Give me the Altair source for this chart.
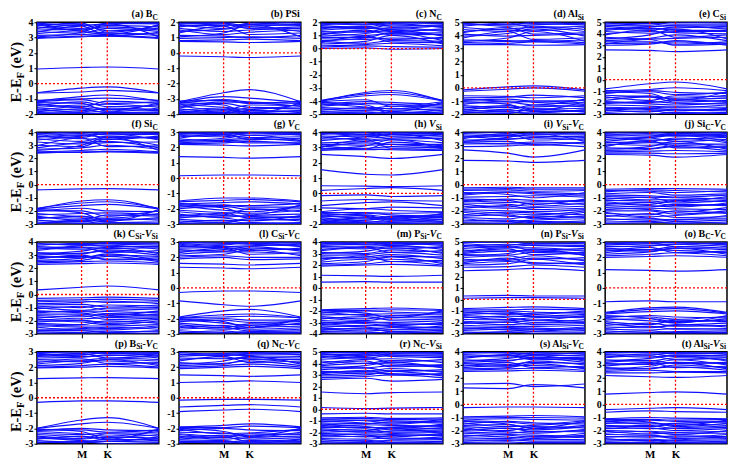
import altair as alt
import pandas as pd

SERIF = "Liberation Serif"
BLUE = "#1010ff"
RED = "#ff0000"

# k-path: Gamma - M - K - Gamma
K_POS = [0.0, 1.0, 1.577, 2.732]

# y ranges of every panel
ranges = {
    "a": (-2, 4), "b": (-4, 2), "c": (-5, 2), "d": (-2, 5), "e": (-3, 5),
    "f": (-3, 4), "g": (-3, 3), "h": (-2, 4), "i": (-3, 4), "j": (-3, 4),
    "k": (-3, 4), "l": (-3, 3), "m": (-4, 4), "n": (-3, 5), "o": (-3, 3),
    "p": (-3, 3), "q": (-3, 3), "r": (-3, 5), "s": (-3, 4), "t": (-3, 4),
}

# bands: energy (eV) at (Gamma, M, K)
bands_a = [(2.95, 3.05, 3.1), (3.0, 3.1, 3.15), (3.05, 3.35, 3.9), (3.35, 3.75, 3.1), (3.4, 3.3, 3.6),
           (3.8, 3.95, 3.35), (3.9, 3.6, 3.95), (4.0, 4.1, 4.05), (3.85, 3.4, 3.2),
           (3.15, 3.2, 3.25), (3.5, 3.55, 3.7), (3.6, 3.85, 3.45), (3.7, 3.5, 3.8), (3.95, 3.8, 3.9),
           (3.25, 3.45, 3.3),
           (0.95, 1.05, 1.08),
           (-0.6, -0.3, -0.22), (-0.62, -0.55, -0.45), (-1.15, -0.85, -0.75), (-1.2, -1.05, -1.3),
           (-1.25, -1.3, -1.8), (-1.3, -1.55, -1.15), (-1.45, -1.2, -1.5), (-1.6, -1.75, -1.85),
           (-1.75, -1.5, -1.65), (-1.9, -1.95, -1.95), (-1.1, -1.0, -0.95), (-1.35, -1.6, -1.7),
           (-1.55, -1.4, -1.35), (-1.7, -1.85, -1.6), (-1.85, -1.65, -1.9), (-1.98, -1.9, -2.0)]
bands_b = [(0.75, 0.72, 0.68), (0.95, 1.0, 1.05), (1.05, 1.3, 1.85), (1.3, 1.75, 1.2), (1.5, 1.2, 1.35),
           (1.7, 1.9, 1.6), (1.85, 1.6, 1.95), (1.95, 2.0, 2.05), (0.8, 0.85, 0.9), (1.15, 1.1, 1.0),
           (1.4, 1.55, 1.7), (1.6, 1.4, 1.5), (1.8, 1.8, 1.85), (1.9, 1.95, 1.75),
           (-0.2, -0.25, -0.3),
           (-3.2, -2.6, -2.4), (-3.25, -2.85, -2.95), (-3.3, -3.05, -3.2), (-3.25, -3.4, -3.95),
           (-3.45, -3.75, -3.4), (-3.6, -3.3, -3.55), (-3.8, -3.9, -3.8), (-3.95, -3.7, -4.0),
           (-3.15, -3.1, -3.3), (-3.35, -3.55, -3.7), (-3.5, -3.2, -3.25), (-3.65, -3.85, -3.6),
           (-3.75, -3.6, -3.9), (-3.9, -3.95, -3.75), (-3.98, -4.0, -3.95)]
bands_c = [(0.0, 0.05, -0.05), (0.1, 0.2, 0.15), (0.35, 0.55, 1.0), (0.45, 0.95, 0.5), (0.75, 0.7, 0.8),
           (0.95, 1.15, 1.4), (1.1, 1.4, 1.05), (1.3, 1.25, 1.6), (1.5, 1.7, 1.3), (1.65, 1.5, 1.8),
           (1.8, 1.95, 1.7), (1.95, 1.8, 2.0), (1.2, 1.0, 1.15), (0.2, 0.3, 0.4), (0.55, 0.4, 0.6),
           (0.85, 0.85, 0.7), (1.05, 1.3, 1.25), (1.4, 1.55, 1.45), (1.6, 1.65, 1.9),
           (1.75, 1.6, 1.55), (1.9, 1.85, 1.95), (0.6, 0.8, 1.2),
           (-4.0, -3.35, -3.2), (-4.0, -3.6, -3.5), (-4.05, -3.9, -4.4), (-4.1, -4.3, -4.8),
           (-4.3, -4.05, -4.1), (-4.5, -4.6, -4.4), (-4.7, -4.5, -4.9), (-4.9, -4.95, -4.85),
           (-3.95, -3.45, -3.35), (-4.2, -4.45, -4.6), (-4.4, -4.2, -4.25), (-4.6, -4.75, -4.7),
           (-4.8, -4.7, -4.55), (-4.95, -4.85, -4.98)]
bands_d = [(3.3, 3.3, 3.25), (3.45, 3.55, 3.6), (3.55, 3.8, 4.3), (3.8, 4.3, 3.7), (4.1, 3.95, 4.0),
           (4.3, 4.5, 4.6), (4.6, 4.4, 4.35), (4.8, 4.85, 4.9), (4.95, 4.7, 4.8), (3.35, 3.4, 3.5),
           (3.65, 3.6, 3.55), (3.95, 4.15, 4.5), (4.2, 4.6, 4.1), (4.45, 4.3, 4.7), (4.7, 4.95, 4.6),
           (4.9, 4.8, 5.0),
           (-0.15, 0.08, 0.15), (-0.25, -0.1, 0.0), (-0.75, -0.7, -0.55), (-0.95, -0.85, -1.0),
           (-1.05, -1.25, -1.7), (-1.25, -1.0, -1.1), (-1.45, -1.65, -1.3), (-1.7, -1.45, -1.8),
           (-1.85, -1.95, -1.6), (-1.95, -1.8, -2.0), (-0.6, -0.65, -0.75), (-0.85, -1.05, -1.3),
           (-1.15, -1.15, -1.0), (-1.35, -1.5, -1.45), (-1.55, -1.35, -1.6), (-1.65, -1.85, -1.9),
           (-1.8, -1.7, -1.75)]
bands_e = [(2.6, 2.55, 2.45), (3.0, 3.1, 3.4), (3.1, 3.5, 3.0), (3.3, 3.3, 3.1), (3.55, 3.9, 4.4),
           (3.9, 4.35, 3.7), (4.2, 4.05, 4.2), (4.4, 4.6, 4.7), (4.65, 4.45, 4.5), (4.85, 4.9, 4.85),
           (4.95, 4.75, 5.0), (3.15, 3.2, 3.3), (3.4, 3.6, 3.9), (3.7, 3.55, 3.6), (4.0, 4.2, 4.1),
           (4.3, 4.5, 4.3), (4.5, 4.3, 4.6), (4.75, 4.65, 4.75),
           (-0.8, -0.35, -0.2), (-0.95, -0.85, -0.7), (-1.05, -1.2, -1.8), (-1.2, -0.95, -1.1),
           (-1.5, -1.8, -1.4), (-1.8, -1.5, -1.95), (-2.0, -2.1, -2.2), (-2.4, -2.45, -2.35),
           (-2.6, -2.8, -2.55), (-2.85, -2.7, -2.95), (-2.95, -3.0, -2.85), (-1.1, -1.05, -1.3),
           (-1.35, -1.5, -1.6), (-1.6, -1.4, -1.7), (-1.9, -2.0, -1.75), (-2.1, -1.9, -2.05),
           (-2.2, -2.3, -2.4), (-2.5, -2.6, -2.7), (-2.7, -2.5, -2.6)]
bands_f = [(2.4, 2.5, 2.5), (2.5, 2.6, 2.7), (2.6, 3.0, 3.6), (2.95, 3.55, 2.9), (3.25, 3.1, 3.2),
           (3.4, 3.7, 3.9), (3.7, 3.5, 3.45), (3.85, 3.9, 3.8), (3.95, 3.75, 4.0), (2.45, 2.45, 2.55),
           (2.7, 2.8, 3.0), (2.8, 3.2, 3.3), (3.0, 2.9, 3.5), (3.5, 3.3, 3.7), (3.6, 3.8, 3.6),
           (3.8, 3.6, 3.9), (3.9, 4.0, 3.95),
           (-0.4, -0.32, -0.3),
           (-1.85, -1.25, -1.15), (-1.85, -1.6, -1.5), (-1.9, -2.15, -2.8), (-2.05, -1.8, -2.0),
           (-2.4, -2.7, -2.3), (-2.6, -2.4, -2.65), (-2.85, -2.95, -2.9), (-3.0, -2.8, -3.0),
           (-1.8, -1.4, -1.3), (-2.0, -2.0, -2.4), (-2.2, -2.45, -2.55), (-2.3, -2.2, -2.15),
           (-2.5, -2.55, -2.75), (-2.7, -2.85, -2.6), (-2.95, -2.7, -2.85)]
bands_g = [(2.2, 2.15, 2.1), (2.3, 2.4, 2.3), (2.45, 2.6, 2.8), (2.6, 2.9, 2.5), (2.8, 2.7, 2.95),
           (2.95, 3.0, 3.0), (2.25, 2.3, 2.4), (2.4, 2.5, 2.6), (2.55, 2.45, 2.5), (2.7, 2.8, 2.65),
           (2.85, 2.95, 2.8), (2.9, 2.85, 2.95),
           (1.4, 1.35, 1.3), (0.15, 0.2, 0.2),
           (-1.5, -1.3, -1.3), (-1.7, -1.6, -1.55), (-1.75, -1.95, -2.4), (-1.9, -1.75, -1.9),
           (-2.2, -2.4, -2.0), (-2.5, -2.3, -2.6), (-2.7, -2.8, -2.75), (-2.9, -2.75, -2.95),
           (-3.0, -3.0, -2.9), (-1.55, -1.45, -1.4), (-1.65, -1.8, -1.8), (-1.8, -2.1, -2.2),
           (-2.0, -1.85, -2.05), (-2.1, -2.25, -2.3), (-2.35, -2.55, -2.45), (-2.45, -2.6, -2.8),
           (-2.6, -2.45, -2.5), (-2.8, -2.9, -2.65), (-2.95, -2.9, -3.0)]
bands_h = [(2.55, 2.4, 2.28), (2.8, 2.9, 2.85), (2.9, 3.1, 3.5), (3.0, 3.5, 2.95), (3.2, 3.15, 3.2),
           (3.45, 3.7, 3.9), (3.7, 3.5, 3.6), (3.85, 3.95, 3.75), (3.95, 3.8, 4.0), (2.95, 2.95, 3.05),
           (2.85, 2.85, 2.9), (3.05, 3.3, 3.2), (3.1, 2.9, 3.35), (3.3, 3.4, 3.5), (3.55, 3.6, 3.7),
           (3.6, 3.85, 3.55), (3.75, 3.7, 3.85), (3.9, 4.0, 3.95),
           (1.55, 1.25, 1.2), (0.5, 0.47, 0.45), (0.2, 0.32, 0.38),
           (-0.15, -0.1, -0.2), (-0.5, -0.4, -0.45), (-0.8, -0.6, -0.55), (-0.95, -1.0, -0.9),
           (-1.2, -1.0, -1.1), (-1.3, -1.5, -1.7), (-1.5, -1.3, -1.4), (-1.6, -1.75, -1.5),
           (-1.8, -1.6, -1.85), (-1.95, -1.95, -1.9), (-1.25, -1.25, -1.3), (-1.35, -1.4, -1.55),
           (-1.45, -1.6, -1.6), (-1.55, -1.45, -1.75), (-1.7, -1.85, -1.8), (-1.85, -1.75, -1.65),
           (-1.9, -1.9, -1.98)]
bands_i = [(1.85, 1.8, 1.7), (2.65, 2.4, 2.1), (3.1, 3.15, 3.25), (3.3, 3.6, 3.9), (3.5, 3.9, 3.4),
           (3.7, 3.5, 3.6), (3.9, 3.8, 3.95), (3.25, 3.3, 3.0), (3.2, 3.1, 3.15), (3.4, 3.45, 3.55),
           (3.6, 3.75, 3.7), (3.8, 3.65, 3.8), (3.95, 3.95, 3.85), (2.9, 2.95, 3.05),
           (-0.25, -0.2, -0.25), (-0.45, -0.4, -0.5), (-0.6, -0.75, -1.0), (-0.8, -0.6, -0.7),
           (-1.1, -1.2, -1.5), (-1.3, -1.1, -1.2), (-1.5, -1.7, -1.4), (-1.8, -1.6, -1.9),
           (-2.0, -2.2, -2.3), (-2.3, -2.1, -2.15), (-2.5, -2.6, -2.4), (-2.75, -2.7, -2.9),
           (-2.9, -2.95, -2.8), (-0.35, -0.3, -0.35), (-0.7, -0.55, -0.6), (-0.95, -0.9, -0.85),
           (-1.2, -1.35, -1.3), (-1.4, -1.5, -1.65), (-1.65, -1.8, -1.75), (-1.9, -2.0, -2.05),
           (-2.1, -2.4, -2.5), (-2.4, -2.3, -2.6), (-2.6, -2.8, -2.7), (-2.85, -2.85, -2.95)]
bands_j = [(2.3, 2.25, 2.1), (2.5, 2.55, 2.6), (2.7, 2.9, 3.3), (2.9, 3.35, 2.8), (3.1, 3.0, 3.1),
           (3.3, 3.6, 3.8), (3.6, 3.4, 3.45), (3.75, 3.8, 3.7), (3.9, 3.7, 3.95), (4.0, 4.0, 3.9),
           (2.4, 2.4, 2.35), (2.6, 2.7, 2.9), (2.8, 2.75, 3.0), (3.0, 3.2, 3.15), (3.2, 3.3, 3.55),
           (3.45, 3.55, 3.3), (3.65, 3.6, 3.75), (3.85, 3.9, 3.8),
           (-0.35, -0.3, -0.3), (-0.45, -0.5, -0.6), (-0.7, -0.6, -0.8), (-0.9, -1.0, -1.3),
           (-1.1, -0.95, -1.0), (-1.3, -1.5, -1.2), (-1.5, -1.35, -1.6), (-1.75, -1.9, -2.1),
           (-1.9, -1.8, -1.85), (-2.2, -2.3, -2.0), (-2.45, -2.2, -2.5), (-2.6, -2.7, -2.65),
           (-2.85, -2.8, -2.95), (-0.55, -0.4, -0.45), (-0.8, -0.85, -0.95), (-1.0, -1.15, -1.15),
           (-1.2, -1.25, -1.4), (-1.4, -1.6, -1.7), (-1.6, -1.7, -1.5), (-2.0, -2.0, -2.25),
           (-2.1, -2.45, -2.35), (-2.35, -2.55, -2.7), (-2.7, -2.6, -2.8), (-2.95, -2.9, -2.85)]
bands_k = [(2.3, 2.35, 2.4), (2.5, 2.6, 2.9), (2.7, 3.0, 2.65), (2.9, 2.8, 3.0), (3.1, 3.3, 3.6),
           (3.35, 3.6, 3.2), (3.55, 3.45, 3.5), (3.75, 3.9, 3.85), (3.9, 3.75, 3.95),
           (2.4, 2.5, 2.55), (2.6, 2.75, 3.1), (2.8, 2.9, 2.7), (3.0, 3.15, 3.3), (3.2, 3.1, 3.4),
           (3.45, 3.7, 3.75), (3.65, 3.55, 3.65), (3.85, 3.8, 3.9),
           (0.35, 0.55, 0.65),
           (-0.3, -0.25, -0.2), (-0.45, -0.4, -0.35), (-0.7, -0.6, -0.5), (-0.9, -1.0, -0.8),
           (-1.1, -0.9, -1.2), (-1.25, -1.4, -1.6), (-1.4, -1.25, -1.3), (-1.6, -1.7, -1.5),
           (-1.8, -1.6, -1.9), (-2.0, -2.1, -2.3), (-2.2, -2.3, -2.0), (-2.4, -2.5, -2.6),
           (-2.65, -2.6, -2.5), (-2.85, -2.9, -2.8), (-0.55, -0.5, -0.6), (-0.8, -0.75, -0.95),
           (-1.0, -1.2, -1.05), (-1.3, -1.3, -1.45), (-1.5, -1.5, -1.7), (-1.7, -1.85, -1.75),
           (-1.9, -2.0, -2.1), (-2.1, -1.95, -2.2), (-2.3, -2.4, -2.4), (-2.5, -2.7, -2.7),
           (-2.75, -2.75, -2.9), (-2.95, -2.95, -2.95)]
bands_l = [(1.35, 1.3, 1.25), (1.6, 1.55, 1.5), (1.9, 2.0, 1.85), (2.1, 2.2, 2.5), (2.3, 2.6, 2.2),
           (2.5, 2.4, 2.6), (2.7, 2.8, 2.95), (2.85, 2.7, 2.75), (2.95, 3.0, 2.9), (2.0, 2.1, 2.0),
           (2.2, 2.35, 2.35), (2.4, 2.5, 2.7), (2.6, 2.65, 2.45), (2.75, 2.9, 2.85), (2.9, 2.85, 3.0),
           (-0.3, -0.2, -0.2),
           (-0.85, -1.1, -1.2), (-1.9, -1.5, -1.4), (-1.95, -1.75, -1.7), (-2.0, -2.2, -2.6),
           (-2.1, -2.0, -2.1), (-2.4, -2.6, -2.35), (-2.6, -2.45, -2.7), (-2.8, -2.9, -2.85),
           (-2.95, -2.8, -3.0), (-1.95, -1.9, -1.85), (-2.05, -2.3, -2.45), (-2.2, -2.1, -2.25),
           (-2.3, -2.5, -2.55), (-2.5, -2.7, -2.6), (-2.7, -2.6, -2.8), (-2.9, -2.95, -2.9)]
bands_m = [(1.9, 2.0, 2.05), (2.1, 2.3, 2.7), (2.4, 2.8, 2.3), (2.7, 2.6, 2.75), (3.0, 3.2, 3.5),
           (3.25, 3.5, 3.1), (3.5, 3.4, 3.6), (3.7, 3.8, 3.9), (3.9, 3.75, 3.85), (2.0, 2.1, 2.3),
           (2.25, 2.5, 2.5), (2.55, 2.7, 2.9), (2.85, 2.9, 3.1), (3.1, 3.0, 3.3), (3.35, 3.6, 3.7),
           (3.6, 3.55, 3.4), (3.8, 3.9, 3.95), (3.95, 4.0, 3.75),
           (1.1, 1.05, 1.0), (0.5, 0.55, 0.5),
           (-1.9, -1.8, -1.75), (-2.0, -2.2, -2.6), (-2.2, -2.0, -2.1), (-2.5, -2.7, -2.4),
           (-2.7, -2.5, -2.8), (-3.0, -3.1, -3.3), (-3.2, -3.0, -3.1), (-3.5, -3.6, -3.45),
           (-3.7, -3.5, -3.8), (-3.9, -3.95, -3.85), (-1.95, -1.95, -1.9), (-2.1, -2.4, -2.45),
           (-2.35, -2.3, -2.25), (-2.6, -2.85, -2.6), (-2.85, -2.95, -3.0), (-3.1, -3.3, -3.2),
           (-3.3, -3.4, -3.6), (-3.45, -3.25, -3.35), (-3.6, -3.75, -3.65), (-3.8, -3.85, -3.95)]
bands_n = [(2.5, 2.6, 2.7), (3.0, 3.1, 3.5), (3.2, 3.6, 3.1), (3.5, 3.4, 3.6), (3.8, 4.0, 4.4),
           (4.1, 4.4, 3.9), (4.3, 4.2, 4.3), (4.6, 4.8, 4.7), (4.85, 4.7, 4.9), (2.8, 2.85, 3.0),
           (3.1, 3.3, 3.2), (3.35, 3.5, 3.8), (3.65, 3.8, 3.5), (3.9, 3.85, 4.1), (4.0, 4.2, 4.2),
           (4.2, 4.5, 4.5), (4.45, 4.6, 4.3), (4.7, 4.55, 4.75), (4.95, 5.0, 4.85),
           (0.3, 0.35, 0.3), (0.1, 0.15, 0.15),
           (-0.8, -0.7, -0.65), (-1.0, -1.1, -1.3), (-1.2, -1.0, -1.1), (-1.4, -1.6, -1.8),
           (-1.6, -1.45, -1.5), (-1.9, -2.0, -1.8), (-2.1, -1.95, -2.2), (-2.4, -2.5, -2.6),
           (-2.6, -2.45, -2.5), (-2.85, -2.9, -2.8), (-0.9, -0.9, -0.85), (-1.1, -1.3, -1.2),
           (-1.3, -1.2, -1.45), (-1.5, -1.75, -1.6), (-1.75, -1.8, -2.0), (-2.0, -2.2, -2.05),
           (-2.25, -2.35, -2.35), (-2.5, -2.65, -2.75), (-2.7, -2.6, -2.6), (-2.95, -2.8, -2.95)]
bands_o = [(2.0, 2.05, 2.1), (2.2, 2.35, 2.6), (2.4, 2.65, 2.3), (2.6, 2.5, 2.7), (2.8, 2.9, 2.95),
           (2.95, 2.8, 2.85), (2.1, 2.2, 2.3), (2.3, 2.5, 2.45), (2.5, 2.4, 2.6), (2.7, 2.75, 2.85),
           (2.85, 2.95, 2.7), (2.9, 3.0, 2.95),
           (1.2, 1.15, 1.1),
           (-0.9, -0.85, -0.9), (-1.6, -1.3, -1.25), (-1.7, -1.55, -1.5), (-1.8, -2.0, -2.3),
           (-1.95, -1.8, -1.9), (-2.2, -2.4, -2.1), (-2.45, -2.3, -2.5), (-2.7, -2.75, -2.65),
           (-2.9, -2.8, -2.95), (-1.65, -1.4, -1.35), (-1.85, -1.9, -2.05), (-2.0, -2.15, -2.25),
           (-2.1, -2.0, -2.2), (-2.3, -2.55, -2.45), (-2.55, -2.6, -2.4), (-2.65, -2.5, -2.7),
           (-2.8, -2.9, -2.85), (-2.95, -2.95, -2.9)]
bands_p = [(1.25, 1.3, 1.32), (1.95, 2.0, 2.05), (2.1, 2.25, 2.5), (2.3, 2.55, 2.25), (2.5, 2.45, 2.6),
           (2.7, 2.8, 2.95), (2.85, 2.7, 2.75), (2.95, 3.0, 2.9), (2.0, 2.1, 2.2), (2.2, 2.4, 2.4),
           (2.4, 2.35, 2.5), (2.6, 2.65, 2.8), (2.75, 2.9, 2.6), (2.9, 2.8, 2.95),
           (-0.3, -0.2, -0.2),
           (-2.0, -1.45, -1.3), (-2.0, -1.7, -1.6), (-2.05, -2.2, -2.7), (-2.15, -2.0, -2.1),
           (-2.5, -2.65, -2.35), (-2.7, -2.5, -2.75), (-2.9, -2.95, -2.85), (-2.95, -2.85, -3.0),
           (-2.1, -2.1, -2.25), (-2.2, -2.35, -2.5), (-2.3, -2.4, -2.3), (-2.4, -2.55, -2.6),
           (-2.55, -2.8, -2.85), (-2.65, -2.7, -2.55), (-2.8, -2.9, -2.7)]
bands_q = [(2.0, 2.1, 2.2), (2.2, 2.4, 2.7), (2.4, 2.7, 2.3), (2.6, 2.55, 2.65), (2.8, 2.9, 2.95),
           (2.95, 2.85, 2.9), (2.1, 2.25, 2.4), (2.3, 2.2, 2.5), (2.5, 2.6, 2.55), (2.7, 2.8, 2.75),
           (2.85, 2.75, 2.85), (1.9, 2.0, 2.05),
           (1.5, 1.45, 1.4), (1.0, 1.05, 1.1),
           (-0.15, -0.1, -0.1), (-0.6, -0.5, -0.45), (-0.9, -0.8, -0.75),
           (-1.9, -1.8, -1.7), (-2.0, -2.2, -2.5), (-2.15, -2.0, -2.1), (-2.4, -2.6, -2.35),
           (-2.6, -2.45, -2.7), (-2.85, -2.9, -2.8), (-2.95, -2.85, -3.0), (-1.95, -1.95, -1.85),
           (-2.05, -2.35, -2.3), (-2.25, -2.3, -2.55), (-2.35, -2.5, -2.45), (-2.5, -2.7, -2.6),
           (-2.7, -2.55, -2.85), (-2.75, -2.8, -2.95), (-2.9, -2.95, -2.9)]
bands_r = [(2.6, 2.7, 2.45), (2.9, 3.0, 3.3), (3.1, 3.4, 3.0), (3.3, 3.25, 3.4), (3.6, 3.8, 4.1),
           (3.9, 4.2, 3.7), (4.2, 4.0, 4.25), (4.5, 4.7, 4.6), (4.8, 4.6, 4.85), (4.95, 4.95, 4.9),
           (2.75, 2.85, 3.0), (3.0, 3.15, 3.1), (3.2, 3.3, 3.55), (3.45, 3.6, 3.3), (3.7, 3.6, 3.8),
           (3.8, 4.0, 3.95), (4.05, 4.35, 4.4), (4.35, 4.5, 4.1), (4.6, 4.45, 4.7), (4.7, 4.85, 4.75),
           (4.85, 4.75, 5.0),
           (1.5, 1.35, 1.45),
           (0.15, 0.05, 0.1), (-0.4, -0.35, -0.4),
           (-0.75, -0.7, -0.8), (-0.9, -1.0, -1.2), (-1.1, -0.95, -1.0), (-1.3, -1.5, -1.7),
           (-1.5, -1.35, -1.4), (-1.7, -1.85, -1.6), (-1.9, -1.7, -2.0), (-2.1, -2.25, -2.4),
           (-2.3, -2.15, -2.2), (-2.55, -2.6, -2.5), (-2.8, -2.7, -2.85), (-2.95, -2.95, -2.9),
           (-0.85, -0.8, -0.9), (-1.0, -1.2, -1.3), (-1.2, -1.25, -1.1), (-1.4, -1.6, -1.55),
           (-1.6, -1.55, -1.8), (-1.8, -2.0, -1.9), (-2.0, -1.9, -2.1), (-2.2, -2.4, -2.3),
           (-2.4, -2.35, -2.6), (-2.65, -2.8, -2.7), (-2.85, -2.9, -2.95)]
bands_s = [(2.5, 2.55, 2.6), (2.7, 2.8, 3.1), (2.9, 3.2, 2.8), (3.1, 3.05, 3.2), (3.3, 3.5, 3.7),
           (3.5, 3.75, 3.4), (3.7, 3.6, 3.75), (3.9, 3.95, 3.85), (2.6, 2.7, 2.75), (2.8, 2.95, 2.95),
           (3.0, 2.9, 3.3), (3.2, 3.35, 3.5), (3.4, 3.3, 3.6), (3.6, 3.8, 3.55), (3.8, 3.7, 3.95),
           (3.95, 3.9, 3.8),
           (1.55, 1.6, 1.35), (1.25, 1.2, 1.5),
           (-0.25, -0.2, -0.2),
           (-0.95, -0.9, -0.85), (-1.2, -1.1, -1.15), (-1.3, -1.5, -1.8), (-1.5, -1.3, -1.4),
           (-1.8, -2.0, -1.7), (-2.0, -1.8, -2.1), (-2.2, -2.35, -2.5), (-2.45, -2.3, -2.35),
           (-2.7, -2.75, -2.65), (-2.9, -2.85, -2.95), (-1.05, -1.0, -1.0), (-1.25, -1.35, -1.5),
           (-1.4, -1.7, -1.6), (-1.6, -1.55, -1.85), (-1.7, -1.85, -1.95), (-1.9, -2.1, -2.2),
           (-2.1, -2.2, -2.05), (-2.35, -2.5, -2.6), (-2.55, -2.6, -2.45), (-2.8, -2.7, -2.8),
           (-2.95, -2.95, -2.9)]
bands_t = [(2.2, 2.1, 2.05), (2.5, 2.6, 2.5), (2.7, 2.9, 3.2), (2.9, 3.2, 2.8), (3.1, 3.05, 3.2),
           (3.3, 3.5, 3.7), (3.55, 3.7, 3.4), (3.7, 3.6, 3.75), (3.9, 3.95, 3.85), (2.4, 2.4, 2.45),
           (2.6, 2.75, 2.85), (2.8, 2.7, 3.0), (3.0, 3.1, 3.4), (3.2, 3.35, 3.1), (3.4, 3.3, 3.55),
           (3.6, 3.85, 3.65), (3.8, 3.75, 3.95), (3.95, 4.0, 3.9),
           (0.78, 0.9, 0.95),
           (-0.4, -0.3, -0.25), (-0.6, -0.5, -0.55), (-1.1, -1.0, -1.05), (-1.2, -1.35, -1.6),
           (-1.35, -1.2, -1.3), (-1.6, -1.7, -1.5), (-1.75, -1.6, -1.85), (-2.0, -2.1, -2.3),
           (-2.2, -2.05, -2.15), (-2.45, -2.5, -2.4), (-2.7, -2.65, -2.75), (-2.9, -2.95, -2.85),
           (-1.15, -1.15, -1.2), (-1.3, -1.5, -1.45), (-1.45, -1.4, -1.7), (-1.65, -1.85, -1.8),
           (-1.85, -1.8, -2.0), (-2.05, -2.25, -2.15), (-2.3, -2.35, -2.5), (-2.5, -2.4, -2.6),
           (-2.6, -2.8, -2.7), (-2.8, -2.75, -2.9), (-2.95, -2.9, -2.95)]

bands = {"a": bands_a, "b": bands_b, "c": bands_c, "d": bands_d, "e": bands_e,
         "f": bands_f, "g": bands_g, "h": bands_h, "i": bands_i, "j": bands_j,
         "k": bands_k, "l": bands_l, "m": bands_m, "n": bands_n, "o": bands_o,
         "p": bands_p, "q": bands_q, "r": bands_r, "s": bands_s, "t": bands_t}

# panel titles: (text, style) n=normal, s=subscript, i=italic
titles = {
    "a": [("(a) B", "n"), ("C", "s")],
    "b": [("(b) PSi", "n")],
    "c": [("(c) N", "n"), ("C", "s")],
    "d": [("(d) Al", "n"), ("Si", "s")],
    "e": [("(e) C", "n"), ("Si", "s")],
    "f": [("(f) Si", "n"), ("C", "s")],
    "g": [("(g) ", "n"), ("V", "i"), ("C", "s")],
    "h": [("(h) ", "n"), ("V", "i"), ("Si", "s")],
    "i": [("(i) ", "n"), ("V", "i"), ("Si", "s"), ("-", "n"), ("V", "i"), ("C", "s")],
    "j": [("(j) Si", "n"), ("C", "s"), ("-", "n"), ("V", "i"), ("C", "s")],
    "k": [("(k) C", "n"), ("Si", "s"), ("-", "n"), ("V", "i"), ("Si", "s")],
    "l": [("(l) C", "n"), ("Si", "s"), ("-", "n"), ("V", "i"), ("C", "s")],
    "m": [("(m) P", "n"), ("Si", "s"), ("-", "n"), ("V", "i"), ("C", "s")],
    "n": [("(n) P", "n"), ("Si", "s"), ("-", "n"), ("V", "i"), ("Si", "s")],
    "o": [("(o) B", "n"), ("C", "s"), ("-", "n"), ("V", "i"), ("C", "s")],
    "p": [("(p) B", "n"), ("Si", "s"), ("-", "n"), ("V", "i"), ("C", "s")],
    "q": [("(q) N", "n"), ("C", "s"), ("-", "n"), ("V", "i"), ("C", "s")],
    "r": [("(r) N", "n"), ("C", "s"), ("-", "n"), ("V", "i"), ("Si", "s")],
    "s": [("(s) Al", "n"), ("Si", "s"), ("-", "n"), ("V", "i"), ("C", "s")],
    "t": [("(t) Al", "n"), ("Si", "s"), ("-", "n"), ("V", "i"), ("Si", "s")],
}
ylabel_segs = [("E-E", "n"), ("F", "s"), (" (eV)", "n")]

grid_keys = [["a", "b", "c", "d", "e"], ["f", "g", "h", "i", "j"],
             ["k", "l", "m", "n", "o"], ["p", "q", "r", "s", "t"]]

W, H = 122, 92

# Times-Bold advance widths (per 1000 em) for text layout
CHAR_W = {' ': 250, '(': 333, ')': 333, '-': 333, 'a': 500, 'b': 556, 'c': 444, 'd': 556,
          'e': 444, 'f': 333, 'g': 500, 'h': 556, 'i': 278, 'j': 333, 'k': 556, 'l': 278,
          'm': 833, 'n': 556, 'o': 500, 'p': 556, 'q': 556, 'r': 444, 's': 389, 't': 333,
          'A': 722, 'B': 667, 'C': 722, 'E': 667, 'F': 611, 'K': 778, 'M': 944, 'N': 722,
          'P': 611, 'S': 556, 'V': 722}


def text_w(txt, size, style):
    w = 0
    for ch in txt:
        w += 667 if (style == "i" and ch == "V") else CHAR_W.get(ch, 500)
    return w / 1000 * size


ONE = pd.DataFrame({"o": [1]})


def text_layer(txt, size, style, x, y, angle=0, align="right"):
    kw = dict(text=txt, font=SERIF, fontSize=size, fontWeight="bold",
              fontStyle="italic" if style == "i" else "normal",
              align=align, baseline="alphabetic", color="black")
    if angle:
        kw["angle"] = angle
    return alt.Chart(ONE).mark_text(**kw).encode(x=alt.value(x), y=alt.value(y))


def title_layers(segs):
    out = []
    cursor = W - 1
    for txt, st in reversed(segs):
        size = 7.5 if st == "s" else 10
        y = -2.5 if st == "s" else -5
        stripped = txt.rstrip()
        offset = text_w(txt, size, st) - text_w(stripped, size, st)
        if stripped:
            out.append(text_layer(stripped, size, st, cursor - offset, y))
        cursor -= text_w(txt, size, st)
    return out


def ylabel_layers():
    out = []
    sizes = {"n": 14.5, "s": 10.5}
    total = sum(text_w(t, sizes[s], s) for t, s in ylabel_segs)
    cursor = H / 2 + 4 + total / 2
    for txt, st in ylabel_segs:
        size = sizes[st]
        x = -16 + (3.5 if st == "s" else 0)
        lead = text_w(txt, size, st) - text_w(txt.lstrip(), size, st)
        out.append(text_layer(txt.strip(), size, st, x, cursor - lead, angle=270, align="left"))
        cursor -= text_w(txt, size, st)
    return out


def band_frame(blist):
    rows = []
    for i, (g, m, k) in enumerate(blist):
        for kk, e in zip(K_POS, (g, m, k, g)):
            rows.append({"band": i, "k": kk, "E": e})
    return pd.DataFrame(rows)


def panel(key, row, col):
    ymin, ymax = ranges[key]
    xs = alt.Scale(domain=[K_POS[0], K_POS[3]], nice=False, zero=False)
    ys = alt.Scale(domain=[ymin, ymax], nice=False, zero=False)
    bottom = row == 3
    xaxis = alt.Axis(values=K_POS[1:3], labelExpr="datum.value < 1.2 ? 'M' : 'K'",
                     labels=bottom, title=None, grid=False, domain=False,
                     tickColor="black", tickSize=4, tickWidth=1,
                     labelFont=SERIF, labelFontSize=11, labelFontWeight="bold",
                     labelColor="black", labelPadding=1)
    yaxis = alt.Axis(values=list(range(ymin, ymax + 1)), labelExpr="'' + datum.value",
                     title=None, grid=False, domain=False, tickColor="black",
                     tickSize=3, tickWidth=1, labelFont=SERIF, labelFontSize=10,
                     labelFontWeight="bold", labelColor="black", labelPadding=1)
    lines = alt.Chart(band_frame(bands[key])).mark_line(
        clip=True, interpolate="monotone", color=BLUE, strokeWidth=1.15
    ).encode(
        x=alt.X("k:Q", scale=xs, axis=xaxis),
        y=alt.Y("E:Q", scale=ys, axis=yaxis),
        detail="band:N",
    )
    vr = alt.Chart(pd.DataFrame({"k": K_POS[1:3]})).mark_rule(
        color=RED, strokeDash=[2, 2], strokeWidth=1.3
    ).encode(x=alt.X("k:Q", scale=xs, axis=xaxis))
    hr = alt.Chart(pd.DataFrame({"E": [0]})).mark_rule(
        color=RED, strokeDash=[2, 2], strokeWidth=1.3
    ).encode(y=alt.Y("E:Q", scale=ys, axis=yaxis))
    layers = [lines, vr, hr] + title_layers(titles[key])
    if col == 0:
        layers += ylabel_layers()
    return alt.layer(*layers).properties(width=W, height=H)


panels = []
for r, keys in enumerate(grid_keys):
    for c, k in enumerate(keys):
        panels.append(panel(k, r, c))

chart = alt.concat(*panels, columns=5, spacing={"row": 18, "column": 20.25},
                   bounds="flush").properties(
    padding={"left": 0, "top": 0, "right": 0, "bottom": 0}
).configure_view(stroke="black", strokeWidth=1.5)

chart.save("out.html", embed_options={"renderer": "svg", "actions": False})
